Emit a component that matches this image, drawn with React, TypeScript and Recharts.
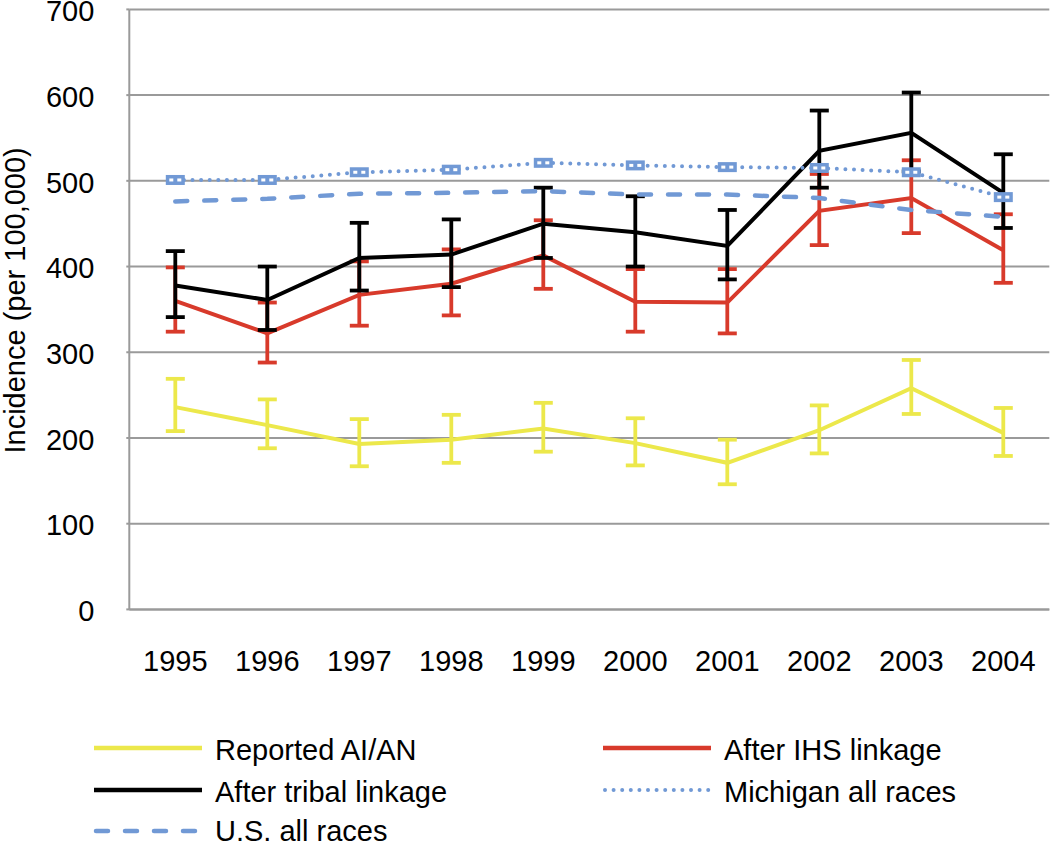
import React from "react"
import {
  LineChart,
  Line,
  XAxis,
  YAxis,
  CartesianGrid,
  ErrorBar,
  Legend,
} from "recharts"

const years = ["1995", "1996", "1997", "1998", "1999", "2000", "2001", "2002", "2003", "2004"]

const reported = [236, 215, 193, 198, 211, 194, 171, 209, 258, 206]
const reportedLo = [208, 188, 167, 171, 184, 168, 146, 182, 228, 179]
const reportedHi = [269, 245, 222, 227, 241, 223, 198, 238, 291, 235]

const ihs = [360, 322, 367, 380, 413, 359, 358, 465, 480, 419]
const ihsLo = [324, 288, 331, 343, 374, 324, 322, 425, 439, 381]
const ihsHi = [399, 358, 406, 420, 454, 397, 397, 508, 524, 461]

const tribal = [378, 361, 410, 414, 450, 440, 424, 535, 556, 486]
const tribalLo = [341, 326, 372, 376, 410, 400, 385, 492, 511, 445]
const tribalHi = [418, 400, 451, 455, 492, 482, 466, 582, 603, 531]

const michigan = [501, 501, 510, 513, 521, 518, 516, 515, 510, 481]
const usAll = [476, 479, 485, 486, 488, 484, 484, 480, 466, 458]

const yTicks = [0, 100, 200, 300, 400, 500, 600, 700]

const YELLOW = "#ece84b"
const RED = "#d83a2b"
const BLACK = "#000000"
const BLUE = "#7199d5"
const GREY = "#9a9a9a"
const FONT = '"Liberation Sans", Arial, sans-serif'
const FS = 29

const data = years.map((year, i) => ({
  year,
  reported: reported[i],
  reportedErr: [reported[i] - reportedLo[i], reportedHi[i] - reported[i]],
  ihs: ihs[i],
  ihsErr: [ihs[i] - ihsLo[i], ihsHi[i] - ihs[i]],
  tribal: tribal[i],
  tribalErr: [tribal[i] - tribalLo[i], tribalHi[i] - tribal[i]],
  michigan: michigan[i],
  us: usAll[i],
}))

const legendItems = [
  { name: "Reported AI/AN", color: YELLOW, dash: undefined, col: 0, row: 0 },
  { name: "After IHS linkage", color: RED, dash: undefined, col: 1, row: 0 },
  { name: "After tribal linkage", color: BLACK, dash: undefined, col: 0, row: 1 },
  { name: "Michigan all races", color: BLUE, dash: "0 8.6", col: 1, row: 1 },
  { name: "U.S. all races", color: BLUE, dash: "12 17", col: 0, row: 2 },
]

function ChartLegend() {
  const colX = [94, 603]
  const rowY = [23, 65, 106]
  return (
    <svg width={1050} height={117} style={{ display: "block" }}>
      {legendItems.map((it) => {
        const x = colX[it.col]
        const y = rowY[it.row]
        const dotted = it.dash === "0 8.6"
        return (
          <g key={it.name}>
            <line
              x1={it.dash ? x + 2 : x}
              x2={it.dash ? x + 106 : x + 108}
              y1={y}
              y2={y}
              stroke={it.color}
              strokeWidth={dotted ? 4 : 4.5}
              strokeDasharray={it.dash}
              strokeLinecap={it.dash ? "round" : "butt"}
            />
            <text
              x={x + 121}
              y={it.row === 2 ? y : y + 2}
              dominantBaseline="central"
              fontSize={FS}
              fontFamily={FONT}
              fill="#000"
            >
              {it.name}
            </text>
          </g>
        )
      })}
    </svg>
  )
}

function MichiganDot(props: any) {
  const { cx, cy, index } = props
  if (cx == null || cy == null) return <g key={index} />
  return (
    <g key={index}>
      <rect x={cx - 9.5} y={cy - 5} width={19} height={10} fill={BLUE} />
      <rect x={cx - 6} y={cy - 1.5} width={4} height={3} fill="#ffffff" />
      <rect x={cx + 2} y={cy - 1.5} width={4} height={3} fill="#ffffff" />
    </g>
  )
}

export default function App() {
  return (
    <div style={{ position: "absolute", left: 0, top: 0, width: 1050, height: 842, overflow: "hidden", background: "#fff" }}>
      <LineChart
        width={1050}
        height={842}
        data={data}
        margin={{ top: 9.4, right: 0.7, left: 0, bottom: 0 }}
      >
        <CartesianGrid vertical={false} stroke={GREY} strokeWidth={2} />
        <XAxis
          dataKey="year"
          height={115.6}
          padding={{ left: 46, right: 46 }}
          axisLine={{ stroke: GREY, strokeWidth: 2 }}
          tickLine={false}
          tickSize={0}
          tickMargin={41}
          tick={{ fill: "#000", fontSize: FS, fontFamily: FONT }}
        />
        <YAxis
          width={129.3}
          domain={[0, 700]}
          ticks={yTicks}
          interval={0}
          axisLine={{ stroke: GREY, strokeWidth: 2 }}
          tickLine={{ stroke: GREY, strokeWidth: 2 }}
          tickSize={3}
          tickMargin={32}
          tick={{ fill: "#000", fontSize: FS, fontFamily: FONT, dy: 1.5 }}
          label={(p: any) => {
            const vb = p.viewBox || { x: 0, y: 9.4, height: 600 }
            const x = vb.x + 25
            const y = vb.y + vb.height / 2 - 9
            return (
              <text
                x={x}
                y={y}
                transform={`rotate(-90 ${x} ${y})`}
                textAnchor="middle"
                fontSize={FS}
                fontFamily={FONT}
                fill="#000"
              >
                Incidence (per 100,000)
              </text>
            )
          }}
        />
        <Legend
          verticalAlign="bottom"
          wrapperStyle={{ top: 725, left: 0, width: 1050, height: 117 }}
          content={() => <ChartLegend />}
        />
        <Line
          dataKey="reported"
          name="Reported AI/AN"
          stroke={YELLOW}
          strokeWidth={4}
          dot={false}
          isAnimationActive={false}
        >
          <ErrorBar dataKey="reportedErr" direction="y" width={9.5} stroke={YELLOW} strokeWidth={3.8} />
        </Line>
        <Line
          dataKey="ihs"
          name="After IHS linkage"
          stroke={RED}
          strokeWidth={4}
          dot={false}
          isAnimationActive={false}
        >
          <ErrorBar dataKey="ihsErr" direction="y" width={9.5} stroke={RED} strokeWidth={3.8} />
        </Line>
        <Line
          dataKey="tribal"
          name="After tribal linkage"
          stroke={BLACK}
          strokeWidth={4}
          dot={false}
          isAnimationActive={false}
        >
          <ErrorBar dataKey="tribalErr" direction="y" width={9.5} stroke={BLACK} strokeWidth={3.8} />
        </Line>
        <Line
          dataKey="us"
          name="U.S. all races"
          stroke={BLUE}
          strokeWidth={4.5}
          strokeDasharray="12 17"
          strokeLinecap="round"
          dot={false}
          isAnimationActive={false}
        />
        <Line
          dataKey="michigan"
          name="Michigan all races"
          stroke={BLUE}
          strokeWidth={4}
          strokeDasharray="0 8.6"
          strokeLinecap="round"
          dot={<MichiganDot />}
          isAnimationActive={false}
        />
      </LineChart>
    </div>
  )
}
